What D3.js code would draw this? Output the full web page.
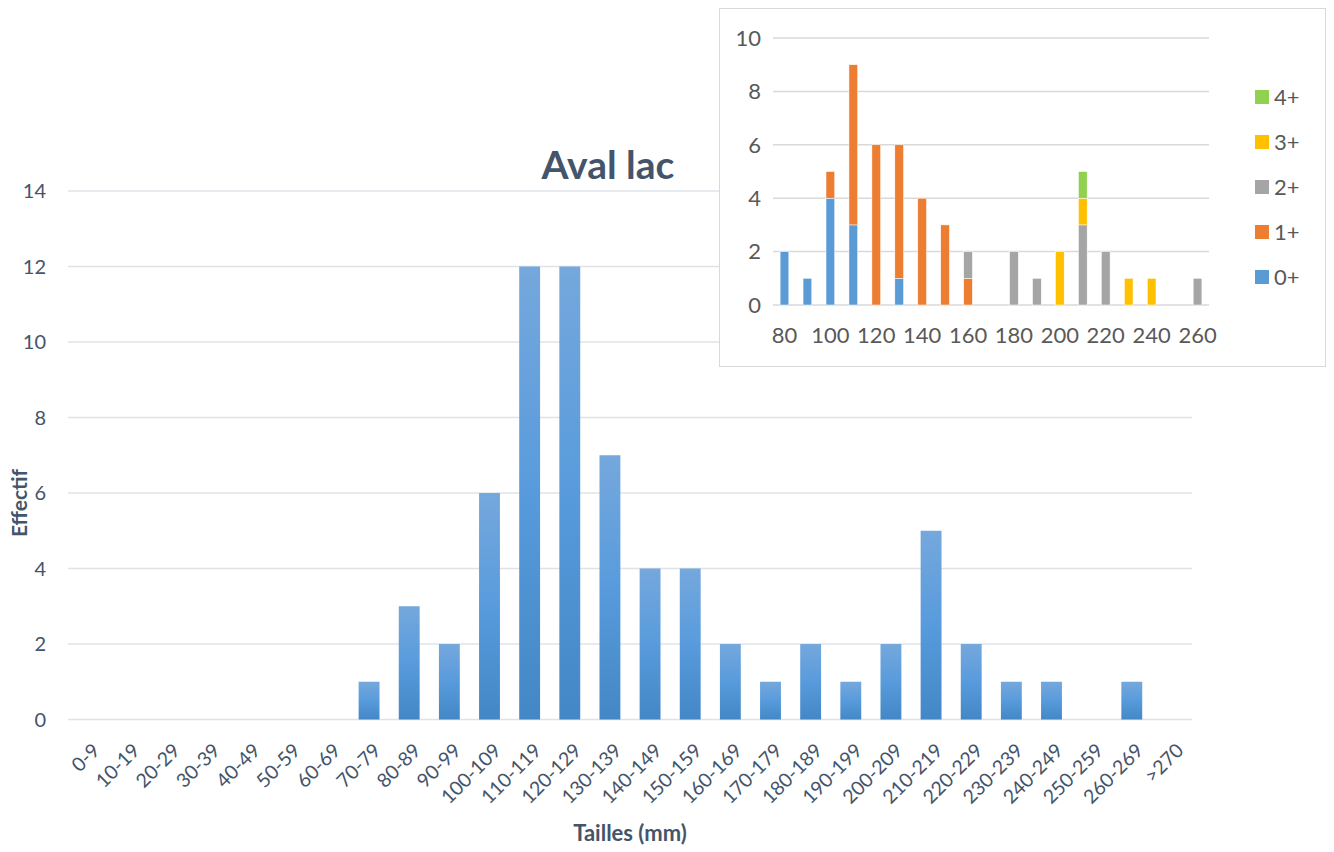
<!DOCTYPE html>
<html>
<head>
<meta charset="utf-8">
<script src="https://cdn.jsdelivr.net/npm/d3@7"></script>
<style>
  body { margin: 0; background: #fff; }
  svg { display: block; font-family: Lato, "Liberation Sans", sans-serif; }
</style>
</head>
<body>
<div id="chart"></div>
<script>
// Main histogram: size classes and counts
const classes = ['0-9','10-19','20-29','30-39','40-49','50-59','60-69','70-79','80-89','90-99',
  '100-109','110-119','120-129','130-139','140-149','150-159','160-169','170-179','180-189','190-199',
  '200-209','210-219','220-229','230-239','240-249','250-259','260-269','>270'];
const counts = [0,0,0,0,0,0,0,1,3,2,6,12,12,7,4,4,2,1,2,1,2,5,2,1,1,0,1,0];
const yTicks = [0,2,4,6,8,10,12,14];

// Inset: stacked by age class
const insetSizes = [80,90,100,110,120,130,140,150,160,170,180,190,200,210,220,230,240,250,260];
const ages = ['0+','1+','2+','3+','4+'];
const age0 = [2,1,4,3,0,1,0,0,0,0,0,0,0,0,0,0,0,0,0];
const age1 = [0,0,1,6,6,5,4,3,1,0,0,0,0,0,0,0,0,0,0];
const age2 = [0,0,0,0,0,0,0,0,1,0,2,1,0,3,2,0,0,0,1];
const age3 = [0,0,0,0,0,0,0,0,0,0,0,0,2,1,0,1,1,0,0];
const age4 = [0,0,0,0,0,0,0,0,0,0,0,0,0,1,0,0,0,0,0];
const ageColors = ['#5b9bd5','#ed7d31','#a5a5a5','#ffc000','#92d050'];
const insetTicks = [0,2,4,6,8,10];

const W = 1334, H = 852;
const svg = d3.select('#chart').append('svg').attr('width', W).attr('height', H);

// gradient for main bars
const defs = svg.append('defs');
const grad = defs.append('linearGradient').attr('id', 'barGrad')
  .attr('x1', 0).attr('y1', 0).attr('x2', 0).attr('y2', 1);
grad.append('stop').attr('offset', '0%').attr('stop-color', '#75a8dc');
grad.append('stop').attr('offset', '50%').attr('stop-color', '#589bdc');
grad.append('stop').attr('offset', '100%').attr('stop-color', '#4387c6');

// ---- main chart ----
const x = d3.scaleBand().domain(classes).range([68, 1192]).paddingInner(0.48).paddingOuter(0.24);
const y = d3.scaleLinear().domain([0, 14]).range([719.5, 191]);

const main = svg.append('g');
main.selectAll('.grid').data(yTicks).enter().append('line')
  .attr('x1', 68).attr('x2', 1192)
  .attr('y1', d => y(d)).attr('y2', d => y(d))
  .attr('stroke', '#dfe3e8').attr('stroke-width', 1.5);

main.selectAll('.ylab').data(yTicks).enter().append('text')
  .attr('x', 46).attr('y', d => y(d)).attr('dy', '0.35em')
  .attr('text-anchor', 'end').attr('font-size', 20).attr('fill', '#44546a')
  .text(d => d);

main.selectAll('.bar').data(classes).enter().append('rect')
  .attr('x', d => x(d)).attr('width', x.bandwidth())
  .attr('y', (d, i) => y(counts[i])).attr('height', (d, i) => y(0) - y(counts[i]))
  .attr('fill', 'url(#barGrad)');

main.selectAll('.xlab').data(classes).enter().append('text')
  .attr('transform', d => `translate(${x(d) + x.bandwidth() / 2 + 8},${747}) rotate(-45)`)
  .attr('text-anchor', 'end').attr('font-size', 19.5).attr('fill', '#44546a')
  .attr('dy', '0.35em')
  .text(d => d);

svg.append('text').attr('x', 630).attr('y', 841).attr('text-anchor', 'middle')
  .attr('font-size', 22).attr('font-weight', 'bold').attr('fill', '#44546a')
  .text('Tailles (mm)');

svg.append('text').attr('transform', 'translate(20,503) rotate(-90)')
  .attr('text-anchor', 'middle').attr('font-size', 21).attr('font-weight', 'bold')
  .attr('fill', '#44546a').attr('dy', '0.35em').text('Effectif');

svg.append('text').attr('x', 608).attr('y', 179).attr('text-anchor', 'middle')
  .attr('font-size', 39).attr('font-weight', 'bold').attr('fill', '#44546a')
  .text('Aval lac');

// ---- inset chart ----
const inset = svg.append('g');
inset.append('rect').attr('x', 719.5).attr('y', 8.5).attr('width', 606).attr('height', 358)
  .attr('fill', '#fff').attr('stroke', '#d9d9d9').attr('stroke-width', 1);

const xi = d3.scaleBand().domain(insetSizes).range([773, 1209]).paddingInner(0.62).paddingOuter(0.31);
const yi = d3.scaleLinear().domain([0, 10]).range([305, 38]);

inset.selectAll('.igrid').data(insetTicks).enter().append('line')
  .attr('x1', 773).attr('x2', 1209)
  .attr('y1', d => yi(d)).attr('y2', d => yi(d))
  .attr('stroke', '#d9d9d9').attr('stroke-width', 1.5);

inset.selectAll('.iylab').data(insetTicks).enter().append('text')
  .attr('x', 761).attr('y', d => yi(d)).attr('dy', '0.35em')
  .attr('text-anchor', 'end').attr('font-size', 22).attr('fill', '#595959')
  .text(d => d);

const table = insetSizes.map((s, i) => ({
  size: s, '0+': age0[i], '1+': age1[i], '2+': age2[i], '3+': age3[i], '4+': age4[i]
}));
const stacked = d3.stack().keys(ages)(table);

inset.selectAll('.layer').data(stacked).enter().append('g')
  .attr('fill', (d, i) => ageColors[i])
  .selectAll('rect').data(d => d.filter(p => p[1] > p[0])).enter().append('rect')
  .attr('x', d => xi(d.data.size)).attr('width', xi.bandwidth())
  .attr('y', d => yi(d[1])).attr('height', d => yi(d[0]) - yi(d[1]))
  .attr('stroke', '#fff').attr('stroke-width', 0.5);

inset.selectAll('.ixlab').data(insetSizes.filter((d, i) => i % 2 === 0)).enter().append('text')
  .attr('x', d => xi(d) + xi.bandwidth() / 2).attr('y', 343)
  .attr('text-anchor', 'middle').attr('font-size', 22).attr('fill', '#595959')
  .text(d => d);

const legend = inset.selectAll('.leg').data(ages.slice().reverse()).enter().append('g')
  .attr('transform', (d, i) => `translate(1255,${97 + i * 45})`);
legend.append('rect').attr('x', 0).attr('y', -7).attr('width', 14).attr('height', 14)
  .attr('fill', d => ageColors[ages.indexOf(d)]);
legend.append('text').attr('x', 19).attr('dy', '0.35em').attr('font-size', 22)
  .attr('fill', '#595959').text(d => d);
</script>
</body>
</html>
